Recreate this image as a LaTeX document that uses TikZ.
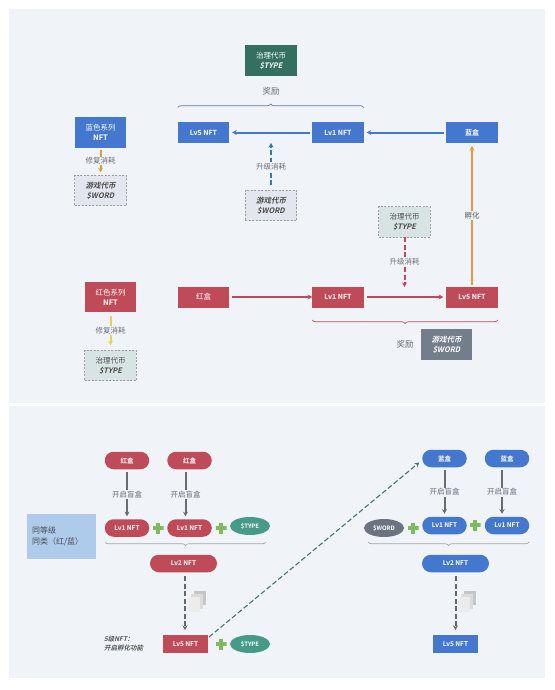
\documentclass[tikz,border=0pt]{standalone}
\usepackage{fontspec}
\setmainfont{Noto Sans CJK SC}[
  BoldFont={Noto Sans CJK SC Bold},
  ItalicFont={Noto Sans CJK SC},
  ItalicFeatures={FakeSlant=0.22},
  BoldItalicFont={Noto Sans CJK SC Bold},
  BoldItalicFeatures={FakeSlant=0.22}]
\usetikzlibrary{arrows.meta,shapes.geometric,decorations.pathreplacing,calc}
\definecolor{pagebg}{HTML}{F0F3F8}
\definecolor{nftblue}{HTML}{4478CF}
\definecolor{nftred}{HTML}{BF4A58}
\definecolor{typegreen}{HTML}{33705F}
\definecolor{wordgray}{HTML}{747D8B}
\definecolor{wordfill}{HTML}{E3E6EE}
\definecolor{typefill}{HTML}{D8E4E3}
\definecolor{tealoval}{HTML}{459A88}
\definecolor{ovalgray}{HTML}{6B7280}
\definecolor{notefill}{HTML}{AECBEC}
\definecolor{plusgreen}{HTML}{7DBB5E}
\definecolor{orangeln}{HTML}{E39A3F}
\definecolor{yellowln}{HTML}{EBD15A}
\definecolor{txtgray}{HTML}{6A6E76}
\tikzset{
  x=1pt,y=-1pt,
  every node/.style={inner sep=0pt,outer sep=0pt,align=center,font=\fontsize{7}{9}\selectfont},
  boxn/.style={rectangle,minimum width=51.5pt,minimum height=21pt,text=white,font=\fontsize{7}{9}\selectfont\bfseries},
  tallbox/.style={rectangle,minimum width=51.5pt,minimum height=30.5pt,text=white,font=\fontsize{7.5}{10}\selectfont},
  dashbox/.style={rectangle,minimum width=51.5pt,minimum height=30.5pt,draw=gray!75,dash pattern=on 2pt off 1.5pt,line width=.9pt,text=black!70,font=\fontsize{7.5}{10}\selectfont},
  pilln/.style={rectangle,rounded corners=8.8pt,minimum width=44.5pt,minimum height=17.5pt,text=white,font=\fontsize{6.5}{8}\selectfont\bfseries},
  widepill/.style={pilln,minimum width=67pt},
  ovaln/.style={ellipse,minimum width=40pt,minimum height=18pt,text=white,font=\fontsize{6}{8}\selectfont\bfseries},
  lowbox/.style={rectangle,minimum width=45pt,minimum height=18pt,text=white,font=\fontsize{6.5}{8}\selectfont\bfseries},
  lab/.style={fill=pagebg,text=txtgray,inner sep=1pt,font=\fontsize{7.5}{9}\selectfont},
  biglab/.style={text=txtgray,font=\fontsize{8.5}{10}\selectfont},
  flow/.style={line width=2pt,-{Stealth[length=4.5pt,width=5pt]}},
  grayflow/.style={flow,draw=gray!85!black},
  dashflow/.style={flow,dash pattern=on 5pt off 2.5pt},
  bracea/.style={decorate,decoration={brace,amplitude=3.5pt},line width=.7pt},
  plusmark/.style={rectangle,minimum size=11pt,path picture={
    \fill[plusgreen] ($(path picture bounding box.center)+(-5.5,-1.6)$) rectangle ($(path picture bounding box.center)+(5.5,1.6)$);
    \fill[plusgreen] ($(path picture bounding box.center)+(-1.6,-5.5)$) rectangle ($(path picture bounding box.center)+(1.6,5.5)$);}},
}
\begin{document}
\begin{tikzpicture}
\useasboundingbox (0,0) rectangle (554,690);
\fill[white] (0,0) rectangle (554,690);
\fill[pagebg] (9,9) rectangle (545,403);
\fill[pagebg] (9,406) rectangle (545,678);

% top panel nodes
\node[tallbox,fill=typegreen] (gov) at (271,60.5) {治理代币\\\bfseries\itshape \$TYPE};
\node[biglab] (rw1) at (271,91) {奖励};
\node[tallbox,fill=nftblue] (bser) at (100.5,132.5) {蓝色系列\\\bfseries NFT};
\node[dashbox,fill=wordfill] (w1) at (100.5,190.5) {\bfseries\itshape 游戏代币\\\bfseries\itshape \$WORD};
\node[boxn,fill=nftblue] (b5) at (203.5,132.5) {Lv5 NFT};
\node[boxn,fill=nftblue] (b1) at (338,132.5) {Lv1 NFT};
\node[boxn,fill=nftblue] (bbox) at (472,132.5) {蓝盒};
\node[dashbox,fill=wordfill] (w2) at (271,205.5) {\bfseries\itshape 游戏代币\\\bfseries\itshape \$WORD};
\node[dashbox,fill=typefill] (t2) at (404.5,222) {治理代币\\\bfseries\itshape \$TYPE};
\node[tallbox,fill=nftred] (rser) at (110.5,297) {红色系列\\\bfseries NFT};
\node[boxn,fill=nftred,font=\fontsize{7.5}{9}\selectfont] (rbox) at (203.5,297) {红盒};
\node[boxn,fill=nftred] (r1) at (338,297) {Lv1 NFT};
\node[boxn,fill=nftred] (r5) at (472,297) {Lv5 NFT};
\node[dashbox,fill=typefill] (t1) at (110.5,365.5) {治理代币\\\bfseries\itshape \$TYPE};
\node[tallbox,fill=wordgray] (wd) at (446.5,344.5) {\bfseries\itshape 游戏代币\\\bfseries\itshape \$WORD};
\node[biglab] (rw2) at (405,344) {奖励};

% top connectors
\draw[flow,draw=nftblue] (bbox.west)++(-2,0) -- ($(b1.east)+(3,0)$);
\draw[flow,draw=nftblue] (b1.west)++(-2,0) -- ($(b5.east)+(3,0)$);
\draw[flow,draw=orangeln] (r5.north)++(0,-2) -- node[lab,pos=.5,text=black!65] {孵化} ($(bbox.south)+(0,3)$);
\draw[flow,draw=nftred] (rbox.east)++(3,0) -- ($(r1.west)$);
\draw[flow,draw=nftred] (r1.east)++(3,0) -- ($(r5.west)+(-3,0)$);
\coordinate (redtip) at (404.5,287);
\draw[dashflow,draw=nftred] (t2.south) -- node[lab,pos=.5] {升级消耗} (redtip);
\coordinate (bluetip) at (271,143);
\draw[dashflow,draw=nftblue!70!teal] ($(w2.north)+(0,-5)$) -- node[lab,pos=.45] {升级消耗} (bluetip);
\draw[flow,draw=orangeln] (bser.south)++(0,2) -- node[lab,pos=.5] {修复消耗} ($(w1.north)+(0,-3)$);
\draw[flow,draw=yellowln] (rser.south)++(0,4) -- node[lab,pos=.5] {修复消耗} ($(t1.north)+(0,-5)$);

% braces
\draw[bracea,draw=nftblue!60!gray] (b5.west |- 0,107.5) -- (b1.east |- 0,107.5);
\draw[bracea,draw=nftred,decoration={mirror}] (r1.west |- 0,320) -- (r5.east |- 0,320);

% bottom panel left
\node[rectangle,fill=notefill,minimum width=69pt,minimum height=45pt,text=black!70,align=left,font=\fontsize{8}{11}\selectfont,text width=59pt] (note) at (61.5,536.5) {同等级\\同类（红/蓝）};
\node[pilln,fill=nftred] (rp1) at (127,460.5) {红盒};
\node[pilln,fill=nftred] (rp2) at (189.5,460.5) {红盒};
\node[pilln,fill=nftred] (rl1) at (127,528) {Lv1 NFT};
\node[pilln,fill=nftred] (rl2) at (189.5,528) {Lv1 NFT};
\node[ovaln,fill=tealoval] (ov1) at (250,526) {\$TYPE};
\node[plusmark] (p1) at (158,528) {};
\node[plusmark] (p2) at (221,528) {};
\node[widepill,fill=nftred] (rl3) at (183.5,563.5) {Lv2 NFT};
\node[lowbox,fill=nftred] (rl5) at (185.5,644) {Lv5 NFT};
\node[plusmark] (p3) at (221,644) {};
\node[ovaln,fill=tealoval] (ov2) at (250,644) {\$TYPE};
\node[text=black!65,align=left,font=\fontsize{6.5}{9}\selectfont\bfseries\itshape,anchor=west] (cap) at (104,643.5) {5级NFT：\\开启孵化功能};

% bottom panel right
\node[pilln,fill=nftblue] (bp1) at (444.5,458.5) {蓝盒};
\node[pilln,fill=nftblue] (bp2) at (507,458.5) {蓝盒};
\node[pilln,fill=nftblue] (bl1) at (444.5,525.5) {Lv1 NFT};
\node[pilln,fill=nftblue] (bl2) at (507,525.5) {Lv1 NFT};
\node[ovaln,fill=ovalgray] (ov3) at (384,528) {\$WORD};
\node[plusmark] (p4) at (413,528) {};
\node[plusmark] (p5) at (475,525) {};
\node[widepill,fill=nftblue] (bl3) at (455.5,563.5) {Lv2 NFT};
\node[lowbox,fill=nftblue] (bl5) at (455.5,644) {Lv5 NFT};

% bottom connectors
\draw[grayflow] (rp1.south)++(0,3) -- node[lab,pos=.5] {开启盲盒} ($(rl1.north)+(0,-3)$);
\draw[grayflow] (rp2.south)++(-4,3) -- node[lab,pos=.5] {开启盲盒} ($(rl2.north)+(-4,-3)$);
\draw[grayflow] (bp1.south)++(0,3) -- node[lab,pos=.5] {开启盲盒} ($(bl1.north)+(0,-3)$);
\draw[grayflow] (bp2.south)++(-5,3) -- node[lab,pos=.5] {开启盲盒} ($(bl2.north)+(-5,-3)$);
\draw[bracea,draw=gray!70,decoration={mirror}] (105,542) -- (266,542);
\draw[bracea,draw=gray!70,decoration={mirror}] (368,542) -- (529,542);
\draw[dashflow,draw=black!60] ($(rl3.south)+(1.5,4)$) -- ($(rl5.north)+(-.5,-5)$);
\draw[dashflow,draw=black!60] ($(bl3.south)+(0,4)$) -- ($(bl5.north)+(0,-5)$);
\draw[dashflow,draw=typegreen!70!gray,line width=1.1pt] ($(rl5.north east)+(1,2)$) -- ($(bp1.west)+(-3,4)$);

% stacks
\foreach \dx/\nm in {0/a,270/b}{
  \fill[gray!45] (194+\dx,591) rectangle (206+\dx,605);
  \fill[gray!28] (191+\dx,594) rectangle (203+\dx,609);
  \fill[gray!15] (188+\dx,597) rectangle (200+\dx,612);
}
\end{tikzpicture}
\end{document}
